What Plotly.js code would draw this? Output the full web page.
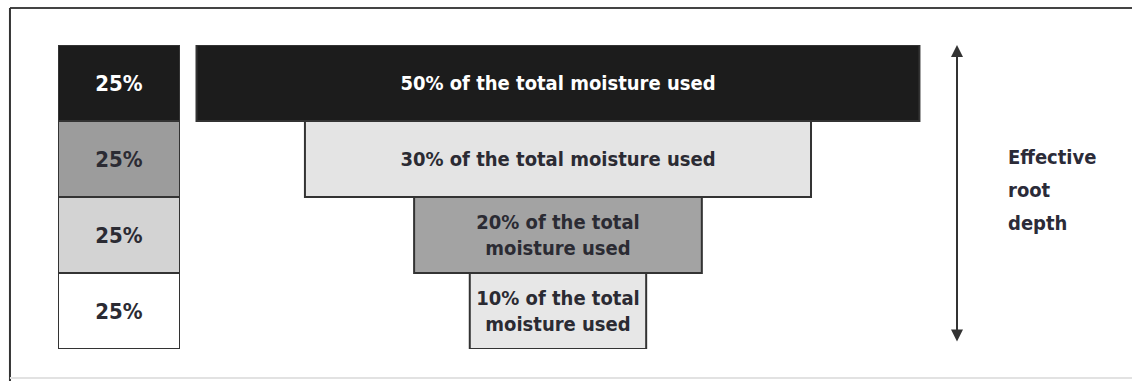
<!DOCTYPE html>
<html><head><meta charset="utf-8">
<script src="https://cdn.plot.ly/plotly-3.0.1.min.js"></script>
<style>html,body{margin:0;padding:0;background:#fff;}#chart{width:1132px;height:381px;}</style>
</head><body><div id="chart"></div>
<script>
// ---- data ----
const layers = [1, 2, 3, 4];
const moistureLabels = [
  "50% of the total moisture used",
  "30% of the total moisture used",
  "20% of the total<br>moisture used",
  "10% of the total<br>moisture used"
];
const barWidths = [50, 35, 19.9, 12.2];
const depthShares = [25, 25, 25, 25];
const depthLabels = ["25%", "25%", "25%", "25%"];
const sideLabelLines = ["Effective", "root", "depth"];

// ---- styles ----
const funnelColors = ["#1c1c1c", "#e4e4e4", "#a3a3a3", "#e7e7e7"];
const funnelTextColors = ["#ffffff", "#2b2b33", "#2b2b33", "#2b2b33"];
const depthColors = ["#1c1c1c", "#9c9c9c", "#d3d3d3", "#ffffff"];
const depthTextColors = ["#ffffff", "#2b2b33", "#2b2b33", "#2b2b33"];
const FONT = "DejaVu Sans Condensed, Liberation Sans Narrow, Arial Narrow, sans-serif";
const sideLabelY = [0.6316, 0.523, 0.4145];

const funnelBase = barWidths.map(w => -w / 2);
const depthBase = depthShares.map((v, i) => depthShares.slice(0, i).reduce((a, b) => a + b, 0));

const traces = [
  {
    type: "bar", orientation: "h", xaxis: "x", yaxis: "y",
    y: layers, x: barWidths, base: funnelBase, width: 1,
    marker: {color: funnelColors, line: {color: "#333333", width: 2}},
    text: moistureLabels, textposition: "inside", insidetextanchor: "middle",
    constraintext: "none", textangle: 0,
    textfont: {family: FONT, size: 20, weight: "bold", color: funnelTextColors},
    hoverinfo: "skip"
  },
  {
    type: "bar", xaxis: "x2", yaxis: "y2",
    x: layers.map(() => "depth"), y: depthShares, base: depthBase, width: 1,
    marker: {color: depthColors, line: {color: "#333333", width: 2}},
    text: depthLabels, textposition: "inside", insidetextanchor: "middle",
    constraintext: "none", textangle: 0,
    textfont: {family: FONT, size: 22, weight: "bold", color: depthTextColors},
    hoverinfo: "skip"
  }
];

const annotations = [
  {xref: "paper", yref: "y2", x: 957 / 1132, y: 0, axref: "pixel", ax: 0, ayref: "y2", ay: 98,
   text: "", showarrow: true, arrowside: "end+start", arrowhead: 2, startarrowhead: 2,
   arrowsize: 1.2, startarrowsize: 1.2, arrowwidth: 2, arrowcolor: "#333333"}
].concat(sideLabelLines.map((t, i) => ({
  xref: "paper", yref: "paper", x: 1006 / 1132, y: sideLabelY[i], xanchor: "left", yanchor: "middle",
  align: "left", text: t, showarrow: false,
  font: {family: FONT, size: 20, weight: "bold", color: "#2b2b38"}
})));

const layout = {
  width: 1132, height: 381,
  margin: {l: 0, r: 0, t: 45, b: 32, pad: 0},
  paper_bgcolor: "#ffffff", plot_bgcolor: "rgba(0,0,0,0)",
  showlegend: false, barmode: "overlay",
  xaxis: {domain: [0, 1], range: [-38.59, 39.70], visible: false, fixedrange: true},
  yaxis: {domain: [0, 1], range: [4.5, 0.5], visible: false, fixedrange: true},
  xaxis2: {domain: [58 / 1132, 180 / 1132], anchor: "y2", type: "category", range: [-0.5, 0.5], visible: false},
  yaxis2: {domain: [0, 1], anchor: "x2", range: [100, 0], visible: false},
  shapes: [
    {type: "line", xref: "paper", yref: "paper", x0: 0.0088, x1: 1.01, y0: 1.1217, y1: 1.1217,
     line: {color: "#444444", width: 2}, layer: "below"},
    {type: "line", xref: "paper", yref: "paper", x0: 0.0088, x1: 0.0088, y0: 1.1217, y1: -0.12,
     line: {color: "#333333", width: 2}, layer: "below"},
    {type: "line", xref: "paper", yref: "paper", x0: 0.0088, x1: 1.01, y0: -0.0954, y1: -0.0954,
     line: {color: "#e2e2e2", width: 2}, layer: "below"}
  ],
  annotations: annotations
};

Plotly.newPlot("chart", traces, layout, {displayModeBar: false, staticPlot: true});
</script>
</body></html>
